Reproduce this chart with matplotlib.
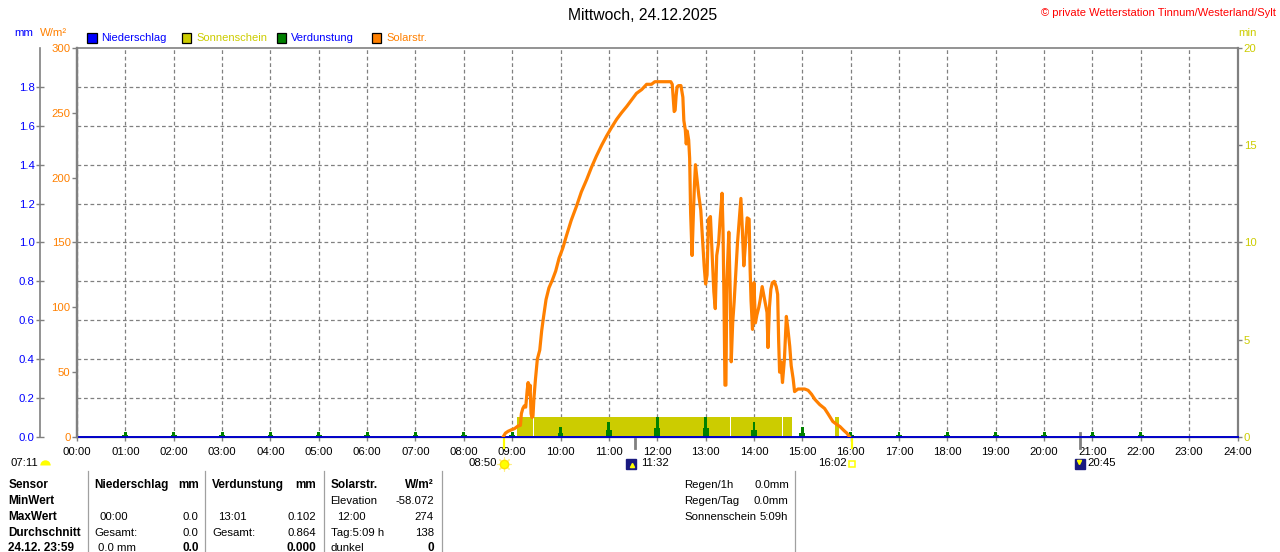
import matplotlib
matplotlib.use("Agg")
import matplotlib.pyplot as plt
from matplotlib.lines import Line2D
from matplotlib.patches import Rectangle
from matplotlib.ticker import FormatStrFormatter

plt.rcParams['font.family'] = ['Liberation Sans', 'DejaVu Sans']

W, H = 1280, 552

# ---- data ----
hour_ticks = list(range(25))
hour_labels = ["%02d:00" % h for h in hour_ticks]

# solar radiation, time in hours, W/m²
solar_t = [8.82, 8.86, 8.92, 8.98, 9.05, 9.12, 9.17, 9.19, 9.22, 9.25, 9.28, 9.31, 9.33, 9.35,
           9.37, 9.39, 9.41, 9.43, 9.45, 9.48, 9.52, 9.57, 9.61, 9.65, 9.70, 9.76, 9.83, 9.90,
           9.97, 10.05, 10.12, 10.22, 10.33, 10.43, 10.54, 10.64, 10.74, 10.85, 10.95, 11.06,
           11.16, 11.26, 11.37, 11.47, 11.57, 11.68, 11.78, 11.88, 11.95, 12.05, 12.15, 12.28,
           12.31, 12.33, 12.35, 12.37, 12.39, 12.41, 12.44, 12.49, 12.53, 12.55, 12.58, 12.60,
           12.62, 12.65, 12.67, 12.69, 12.72, 12.75, 12.77, 12.79, 12.82, 12.86, 12.90, 12.94,
           12.97, 13.00, 13.03, 13.06, 13.10, 13.13, 13.17, 13.20, 13.23, 13.27, 13.30, 13.34,
           13.36, 13.38, 13.40, 13.42, 13.44, 13.48, 13.51, 13.53, 13.56, 13.59, 13.63, 13.66,
           13.70, 13.73, 13.76, 13.79, 13.82, 13.86, 13.90, 13.92, 13.94, 13.97, 14.00, 14.03,
           14.06, 14.10, 14.13, 14.17, 14.20, 14.23, 14.27, 14.29, 14.32, 14.35, 14.38, 14.42,
           14.46, 14.49, 14.51, 14.53, 14.56, 14.59, 14.63, 14.67, 14.70, 14.74, 14.77, 14.81,
           14.84, 14.91, 14.98, 15.05, 15.12, 15.19, 15.26, 15.36, 15.46, 15.53, 15.63, 15.70,
           15.78, 15.86, 15.92, 15.97]
solar_w = [0.5, 3, 4.5, 5.5, 6.5, 8.5, 9, 18, 22, 24, 23, 36, 42, 33,
           40, 18, 15, 16, 30, 44, 60, 67, 82, 93, 106, 115, 121, 128,
           138, 146, 155, 167, 178, 189, 198.5, 208, 216.5, 225, 232, 239,
           245, 250, 255, 260, 265, 268, 272, 272, 274, 274, 274, 274,
           272, 262, 251, 252, 263, 270, 271, 271, 262, 244, 237, 226,
           236, 229, 215, 173, 140, 175, 195, 210, 200, 186, 175, 150,
           132, 118, 125, 168, 170, 145, 112, 99, 140, 150, 168, 188,
           160, 106, 40, 40, 120, 158, 110, 58, 88, 104, 130, 150,
           170, 184, 160, 132, 147, 169, 168, 130, 105, 83, 119, 88,
           94, 100, 106, 116, 110, 104, 96, 69, 100, 114, 119, 120,
           116, 110, 75, 50, 58, 42, 60, 93, 84, 70, 55, 45,
           35, 37, 37, 37, 36, 33, 29, 25, 22, 18, 12, 10,
           8, 5, 3, 0.5]

# sunshine periods (hours) and sunshine minutes per period bar
sun_start = [9.09, 9.445, 13.53, 14.60, 15.68]
sun_end = [9.43, 13.51, 14.57, 14.79, 15.75]
sun_min = [1.05, 1.05, 1.05, 1.05, 1.05]

# evaporation per hour, mm
verd_t = [1, 2, 3, 4, 5, 6, 7, 8, 9, 10, 11, 12, 13, 14, 15, 16, 17, 18, 19, 20, 21, 22]
verd_mm = [0.026, 0.026, 0.026, 0.026, 0.026, 0.026, 0.026, 0.026, 0.026, 0.051, 0.077,
           0.103, 0.102, 0.077, 0.051, 0.026, 0.026, 0.026, 0.026, 0.026, 0.026, 0.026]

# precipitation, mm
nieder_t = [0, 24]
nieder_mm = [0.0, 0.0]

# astronomical events below the axis
events_t = [8.833, 11.533, 16.033, 20.75]
events_lbl = ["08:50", "11:32", "16:02", "20:45"]

BLUE = '#0000FF'
BLUE_LINE = '#0000C8'
ORANGE = '#FF8000'
YEL = '#CCCC00'
GREEN = '#008000'
GREY = '#808080'
NAVY = '#1A1A80'
FS = 8.2


def fx(px):
    return px / W


def fy(py):
    return 1 - py / H


fig = plt.figure(figsize=(12.8, 5.52), dpi=100)
ax_min = fig.add_axes([fx(77), fy(437), (1237.5 - 77) / W, (437 - 48) / H])
ax_mm = ax_min.twinx()
ax = ax_min.twinx()

# sunshine axis (right), carries the hour grid
ax_min.set_xlim(0, 24)
ax_min.set_ylim(0, 20)
ax_min.bar(sun_start, sun_min, width=[e - s for s, e in zip(sun_start, sun_end)],
           align='edge', color=YEL, lw=0, zorder=2)
ax_min.set_xticks(hour_ticks)
ax_min.set_xticklabels(hour_labels)
ax_min.set_axisbelow(True)
ax_min.grid(axis='x', color=GREY, ls=(0, (3, 2.2)), lw=0.9)
ax_min.yaxis.tick_right()
ax_min.set_yticks([0, 5, 10, 15, 20])
ax_min.tick_params(axis='y', colors=GREY, labelcolor=YEL, length=3, width=1, pad=1.5, labelsize=FS)
ax_min.tick_params(axis='x', colors=GREY, labelcolor='black', length=3, width=1, pad=4.5, labelsize=FS)
for s, lw in [('top', 1.2), ('right', 1.6), ('left', 1.6), ('bottom', 1.0)]:
    ax_min.spines[s].set_color(GREY)
    ax_min.spines[s].set_linewidth(lw)

# mm axis (far left): evaporation + precipitation
ax_mm.set_ylim(0, 2)
ax_mm.yaxis.tick_left()
ax_mm.set_yticks([0, 0.2, 0.4, 0.6, 0.8, 1.0, 1.2, 1.4, 1.6, 1.8])
ax_mm.yaxis.set_major_formatter(FormatStrFormatter('%.1f'))
ax_mm.spines['left'].set_position(('outward', 26.6))
ax_mm.spines['left'].set_visible(True)
ax_mm.spines['left'].set_color(GREY)
ax_mm.spines['left'].set_linewidth(1.2)
for s in ['top', 'right', 'bottom']:
    ax_mm.spines[s].set_visible(False)
ax_mm.tick_params(axis='y', colors=GREY, labelcolor=BLUE, direction='inout', length=5.8,
                  width=1, pad=1, labelsize=FS)
ax_mm.set_axisbelow(True)
ax_mm.grid(axis='y', color=GREY, ls=(0, (3, 2.2)), lw=0.9)
ax_mm.bar(verd_t, [v * 0.45 for v in verd_mm], width=0.12, color=GREEN, lw=0)
ax_mm.bar(verd_t, verd_mm, width=0.06, color=GREEN, lw=0)
ax_mm.plot(nieder_t, nieder_mm, color=BLUE_LINE, lw=1.4, clip_on=False, zorder=3)

# W/m² axis: solar radiation
ax.set_ylim(0, 300)
ax.yaxis.tick_left()
ax.set_yticks([0, 50, 100, 150, 200, 250, 300])
for s in ['top', 'right', 'bottom']:
    ax.spines[s].set_visible(False)
ax.spines['left'].set_visible(True)
ax.spines['left'].set_color(GREY)
ax.spines['left'].set_linewidth(1.6)
ax.tick_params(axis='y', colors=GREY, labelcolor=ORANGE, length=3.6, width=1, pad=1, labelsize=FS)
ax.plot(solar_t, solar_w, color=ORANGE, lw=2.3, zorder=4)

# small marks below the axis
xa = ax_min.get_xaxis_transform()
ax_min.plot([events_t[0]] * 2, [0, -0.027], color='#FFFF00', lw=1.6, transform=xa, clip_on=False)
ax_min.plot([events_t[2]] * 2, [0, -0.027], color='#FFFF00', lw=1.6, transform=xa, clip_on=False)
ax_min.plot([events_t[1]] * 2, [-0.005, -0.027], color=GREY, lw=2.0, transform=xa, clip_on=False)
ax_min.plot([events_t[3]] * 2, [0.01, -0.027], color=GREY, lw=2.0, transform=xa, clip_on=False)

# event row
ey = (437 - 463.5) / 389
kw = dict(transform=xa, clip_on=False)
# 08:50 sun
ax_min.plot([events_t[0]], [ey], marker=(8, 2, 0), ms=10, mec='#FFF080', mew=0.8, **kw)
ax_min.plot([events_t[0]], [ey], marker='o', ms=6, mfc='#FFFF00', mec='#FFE000', **kw)
ax_min.annotate(events_lbl[0], (events_t[0], ey), xycoords=xa, xytext=(-7, 0),
                textcoords='offset pixels', ha='right', va='center', fontsize=FS)
# 11:32 noon icon
ax_min.plot([events_t[1] - 0.07], [ey], marker='s', ms=6.5, mfc=NAVY, mec=NAVY, **kw)
ax_min.plot([events_t[1] - 0.05], [ey - 0.004], marker='^', ms=3, mfc='#FFFF00', mec='#FFFF00', **kw)
ax_min.annotate(events_lbl[1], (events_t[1], ey), xycoords=xa, xytext=(6, 0),
                textcoords='offset pixels', ha='left', va='center', fontsize=FS)
# 16:02 sunset
ax_min.plot([events_t[2]], [ey], marker='s', ms=5, mfc='none', mec='#FFFF00', mew=1.1, **kw)
ax_min.annotate(events_lbl[2], (events_t[2], ey), xycoords=xa, xytext=(-6, 0),
                textcoords='offset pixels', ha='right', va='center', fontsize=FS)
# 20:45 moon
ax_min.plot([events_t[3]], [ey], marker='s', ms=6.5, mfc=NAVY, mec=NAVY, **kw)
ax_min.plot([events_t[3] - 0.02], [ey + 0.004], marker='v', ms=3, mfc='#FFFF00', mec='#FFFF00', **kw)
ax_min.annotate(events_lbl[3], (events_t[3], ey), xycoords=xa, xytext=(7, 0),
                textcoords='offset pixels', ha='left', va='center', fontsize=FS)
# 07:11 twilight at the left edge
fig.text(fx(10.5), fy(463.5), "07:11", ha='left', va='center', fontsize=FS)
fig.add_artist(Line2D([fx(44.5)], [fy(465)], marker='o', ms=7.5, fillstyle='top',
                      mfc='#FFFF00', mfcalt='none', mec='none'))

# title, copyright, axis units
fig.text(fx(643), fy(15), "Mittwoch, 24.12.2025", ha='center', va='center', fontsize=11.3)
fig.text(fx(1276), fy(12.5), "© private Wetterstation Tinnum/Westerland/Sylt", ha='right',
         va='center', fontsize=8, color='#FF0000')
fig.text(fx(14), fy(33), "mm", ha='left', va='center', fontsize=FS, color=BLUE)
fig.text(fx(40), fy(33), "W/m²", ha='left', va='center', fontsize=FS, color=ORANGE)
fig.text(fx(1238), fy(33), "min", ha='left', va='center', fontsize=FS, color=YEL)

# legend
legend_items = [("Niederschlag", BLUE, BLUE, 87.3), ("Sonnenschein", YEL, YEL, 182.0),
                ("Verdunstung", GREEN, BLUE, 277.0), ("Solarstr.", ORANGE, ORANGE, 372.0)]
for name, fc, tc, x0 in legend_items:
    fig.add_artist(Rectangle((fx(x0), fy(42.5)), 9.4 / W, 9.6 / H, transform=fig.transFigure,
                             facecolor=fc, edgecolor='black', lw=0.9))
    fig.text(fx(x0 + 14), fy(37.8), name, ha='left', va='center', fontsize=8, color=tc)

# statistics table
rows_y = [485, 501, 517, 532.7, 548]
for y, lbl in zip(rows_y, ["Sensor", "MinWert", "MaxWert", "Durchschnitt", "24.12. 23:59"]):
    fig.text(fx(8.5), fy(y), lbl, ha='left', va='center', fontsize=8.5, fontweight='bold')

cells = [
    # x, row, text, align, bold
    (94.7, 0, "Niederschlag", 'left', True), (198.8, 0, "mm", 'right', True),
    (100, 2, "00:00", 'left', False), (198.8, 2, "0.0", 'right', False),
    (94.7, 3, "Gesamt:", 'left', False), (198.8, 3, "0.0", 'right', False),
    (98, 4, "0.0 mm", 'left', False), (198.8, 4, "0.0", 'right', True),
    (212.2, 0, "Verdunstung", 'left', True), (316.3, 0, "mm", 'right', True),
    (218.4, 2, "13:01", 'left', False), (316.3, 2, "0.102", 'right', False),
    (212.6, 3, "Gesamt:", 'left', False), (316.3, 3, "0.864", 'right', False),
    (316.3, 4, "0.000", 'right', True),
    (330.6, 0, "Solarstr.", 'left', True), (433.9, 0, "W/m²", 'right', True),
    (330.6, 1, "Elevation", 'left', False), (433.9, 1, "-58.072", 'right', False),
    (336.7, 2, "12:00", 'left', False), (433.9, 2, "274", 'right', False),
    (330.6, 3, "Tag:5:09 h", 'left', False), (433.9, 3, "138", 'right', False),
    (330.6, 4, "dunkel", 'left', False), (433.9, 4, "0", 'right', True),
    (684, 0, "Regen/1h", 'left', False), (789, 0, "0.0mm", 'right', False),
    (684, 1, "Regen/Tag", 'left', False), (788, 1, "0.0mm", 'right', False),
    (684, 2, "Sonnenschein", 'left', False), (788, 2, "5:09h", 'right', False),
]
for x, r, txt, ha, bold in cells:
    fig.text(fx(x), fy(rows_y[r]), txt, ha=ha, va='center',
             fontsize=8.5 if bold else FS, fontweight='bold' if bold else 'normal')

for x in [88, 205, 323.5, 441.5, 795]:
    fig.add_artist(Line2D([fx(x), fx(x)], [fy(471), fy(552)], color='#A0A0A0', lw=0.9))

fig.savefig("out.png", dpi=100)
